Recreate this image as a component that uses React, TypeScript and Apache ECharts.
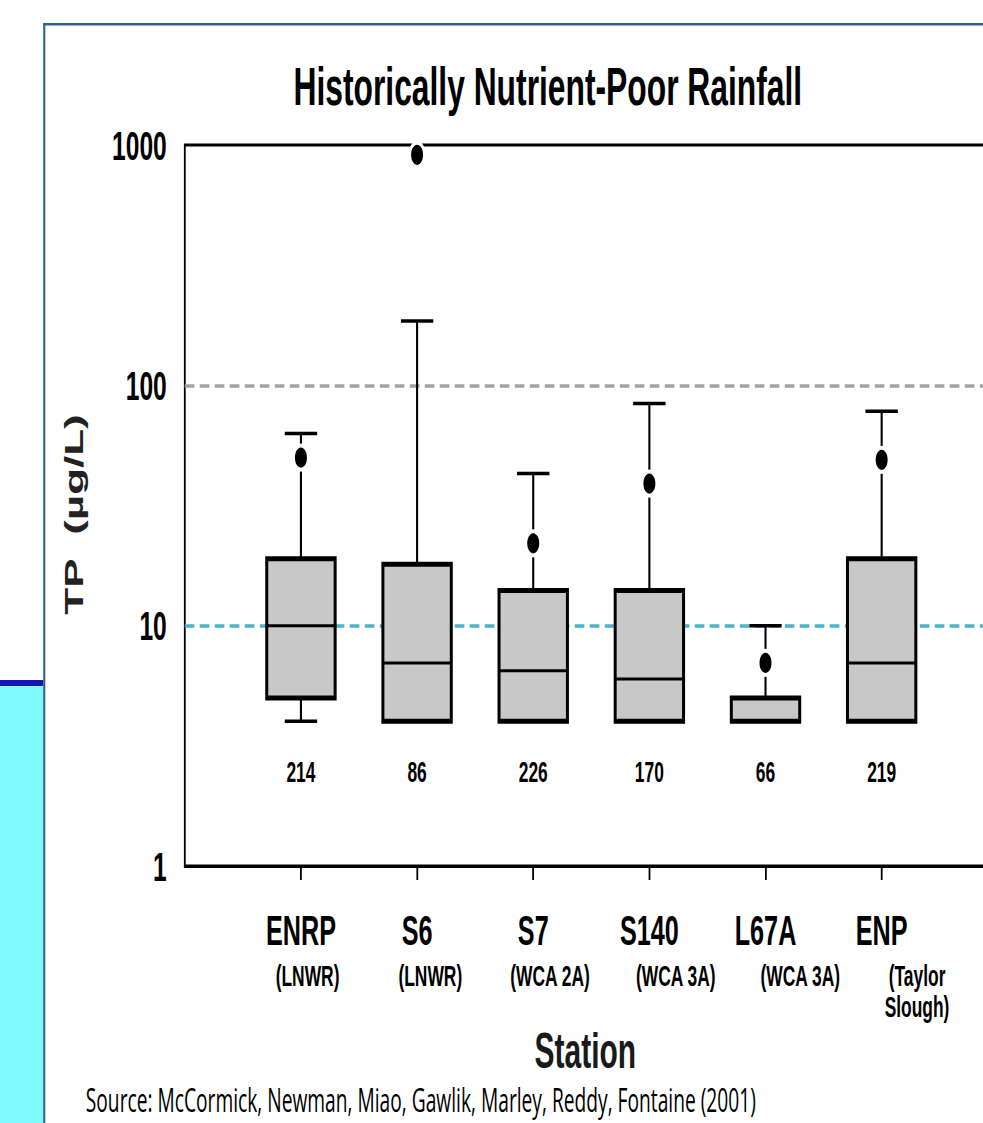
import React, { useEffect, useRef } from "react";
import * as echarts from "echarts";

// The reference slide image is squashed horizontally; the chart is drawn at
// full proportions and then compressed with a CSS scaleX.
const S = 0.6;
const FULL_W = 1666;
const FULL_H = 1123;
const FONT = "'Liberation Sans', Arial, Helvetica, sans-serif";

const stations = ["ENRP", "S6", "S7", "S140", "L67A", "ENP"];
const subLabels = ["(LNWR)", "(LNWR)", "(WCA 2A)", "(WCA 3A)", "(WCA 3A)", "(Taylor\nSlough)"];
const lowerWhisker = [4, 4, 4, 4, 4, 4];
const q1 = [5, 4, 4, 4, 4, 4];
const median = [10, 7, 6.5, 6, 4, 7];
const q3 = [19, 18, 14, 14, 5, 19];
const upperWhisker = [63, 185, 43, 84, 10, 78];
const outliers = [50, 910, 22, 39, 7, 49];
const counts = [214, 86, 226, 170, 66, 219];
const refLines = [100, 10];
const refColors = ["#a3a3a3", "#4db3cb"];
const COUNT_Y = 2.46;

const subShift = [22, 44, 56, 88, 116, 118];

export default function App() {
  const ref = useRef<HTMLDivElement>(null);
  useEffect(() => {
    if (!ref.current) return;
    const chart = echarts.init(ref.current, null, { renderer: "svg" });

    const categories = ["", ...stations, " "];
    const rich: any = {
      m: { fontFamily: FONT, fontWeight: "bold", fontSize: 42, lineHeight: 60, color: "#000" },
    };
    subShift.forEach((p, i) => {
      rich["s" + (i + 1)] = {
        fontFamily: FONT,
        fontWeight: "bold",
        fontSize: 29,
        lineHeight: 31,
        color: "#000",
        padding: [0, 0, 0, p],
      };
    });

    const boxData = stations.map((_, i) => [
      i + 1,
      lowerWhisker[i],
      q1[i],
      median[i],
      q3[i],
      upperWhisker[i],
      counts[i],
    ]);

    chart.setOption({
      animation: false,
      backgroundColor: "#fff",
      grid: {
        left: 308,
        right: 0,
        top: 145,
        bottom: 257,
        show: true,
        borderColor: "#000",
        borderWidth: 3,
      },
      xAxis: {
        type: "category",
        data: categories,
        boundaryGap: false,
        name: "Station",
        nameLocation: "middle",
        nameGap: 157,
        nameTextStyle: {
          fontFamily: FONT,
          fontWeight: "bold",
          fontSize: 50,
          color: "#1a1a1a",
          padding: [0, 20, 0, 0],
        },
        axisLine: { show: true, lineStyle: { color: "#000", width: 3 } },
        axisTick: {
          show: true,
          length: 14,
          interval: (idx: number) => idx > 0 && idx < categories.length - 1,
          lineStyle: { color: "#000", width: 3 },
        },
        axisLabel: {
          interval: 0,
          margin: 34,
          formatter: (_v: string, idx: number) => {
            if (idx < 1 || idx > stations.length) return "";
            const subs = subLabels[idx - 1]
              .split("\n")
              .map((l) => `{s${idx}|${l}}`)
              .join("\n");
            return `{m|${stations[idx - 1]}}\n${subs}`;
          },
          rich,
        },
        splitLine: { show: false },
      },
      yAxis: {
        type: "log",
        logBase: 10,
        min: 1,
        max: 1000,
        name: "TP  (µg/L)",
        nameLocation: "middle",
        nameRotate: 90,
        nameGap: 162,
        nameTextStyle: {
          fontFamily: FONT,
          fontWeight: "bold",
          fontSize: 44,
          color: "#222",
          padding: [0, 18, 0, 0],
        },
        axisLine: { show: false },
        axisTick: { show: false },
        splitLine: { show: false },
        axisLabel: {
          fontFamily: FONT,
          fontWeight: "bold",
          fontSize: 41,
          color: "#000",
          margin: 30,
          padding: [14, 0, 0, 0],
          formatter: (v: number) => String(Math.round(v)),
        },
      },
      graphic: [
        { type: "rect", shape: { x: 0, y: 686, width: 72, height: 440 }, style: { fill: "#7ffbfd" }, z: 0 },
        { type: "rect", shape: { x: 0, y: 680, width: 72, height: 6 }, style: { fill: "#1616ad" }, z: 0 },
        { type: "rect", shape: { x: 72, y: 23, width: 1700, height: 2.5 }, style: { fill: "#30608f" }, z: 0 },
        { type: "rect", shape: { x: 72, y: 23, width: 3.5, height: 1110 }, style: { fill: "#30608f" }, z: 0 },
        {
          type: "text",
          x: 913,
          y: 86,
          style: {
            text: "Historically Nutrient-Poor Rainfall",
            fontFamily: FONT,
            fontWeight: "bold",
            fontSize: 53,
            fill: "#000",
            align: "center",
            verticalAlign: "middle",
          },
        },
        {
          type: "text",
          x: 143,
          y: 1100,
          style: {
            text: "Source: McCormick, Newman, Miao, Gawlik, Marley, Reddy, Fontaine (2001)",
            fontFamily: "'Open Sans', Lato, sans-serif",
            fontSize: 32,
            fill: "#000",
            align: "left",
            verticalAlign: "middle",
          },
        },
      ],
      series: [
        {
          type: "line",
          data: [],
          silent: true,
          z: 1,
          markLine: {
            silent: true,
            symbol: "none",
            label: { show: false },
            data: refLines.map((v, i) => ({
              yAxis: v,
              lineStyle: { color: refColors[i], width: 3.5, type: [16, 9] },
            })),
          },
        },
        {
          type: "custom",
          z: 10,
          data: boxData,
          encode: { x: 0, y: [1, 2, 3, 4, 5] },
          renderItem: (_p: any, api: any) => {
            const x = api.value(0);
            const pt = (v: number) => api.coord([x, v]);
            const [cx, yLo] = pt(api.value(1));
            const yQ1 = pt(api.value(2))[1];
            const yMed = pt(api.value(3))[1];
            const yQ3 = pt(api.value(4))[1];
            const yHi = pt(api.value(5))[1];
            const yCnt = pt(COUNT_Y)[1];
            const bh = 57;
            const ch = 27;
            const ls = { stroke: "#000", lineWidth: 3.5 };
            return {
              type: "group",
              children: [
                { type: "line", shape: { x1: cx, y1: yQ3, x2: cx, y2: yHi }, style: ls },
                { type: "line", shape: { x1: cx, y1: yQ1, x2: cx, y2: yLo }, style: ls },
                { type: "line", shape: { x1: cx - ch, y1: yHi, x2: cx + ch, y2: yHi }, style: ls },
                { type: "line", shape: { x1: cx - ch, y1: yLo, x2: cx + ch, y2: yLo }, style: ls },
                {
                  type: "rect",
                  shape: { x: cx - bh, y: yQ3, width: bh * 2, height: yQ1 - yQ3 },
                  style: { fill: "#c8c8c8", stroke: "#000", lineWidth: 5 },
                },
                {
                  type: "line",
                  shape: { x1: cx - bh, y1: yMed, x2: cx + bh, y2: yMed },
                  style: { stroke: "#000", lineWidth: 3 },
                },
                {
                  type: "text",
                  x: cx,
                  y: yCnt,
                  style: {
                    text: String(api.value(6)),
                    fontFamily: FONT,
                    fontWeight: "bold",
                    fontSize: 29,
                    fill: "#000",
                    align: "center",
                    verticalAlign: "middle",
                  },
                },
              ],
            };
          },
        },
        {
          type: "scatter",
          z: 11,
          data: outliers.map((v, i) => [i + 1, v]),
          symbol: "circle",
          symbolSize: 24,
          itemStyle: { color: "#000", opacity: 1, borderColor: "#fff", borderWidth: 4 },
        },
      ],
    });
    return () => chart.dispose();
  }, []);

  return (
    <div
      style={{
        position: "fixed",
        left: 0,
        top: 0,
        width: 983,
        height: 1123,
        overflow: "hidden",
        background: "#fff",
      }}
    >
      <div
        ref={ref}
        style={{
          width: FULL_W,
          height: FULL_H,
          transform: `scaleX(${S})`,
          transformOrigin: "0 0",
        }}
      />
    </div>
  );
}
